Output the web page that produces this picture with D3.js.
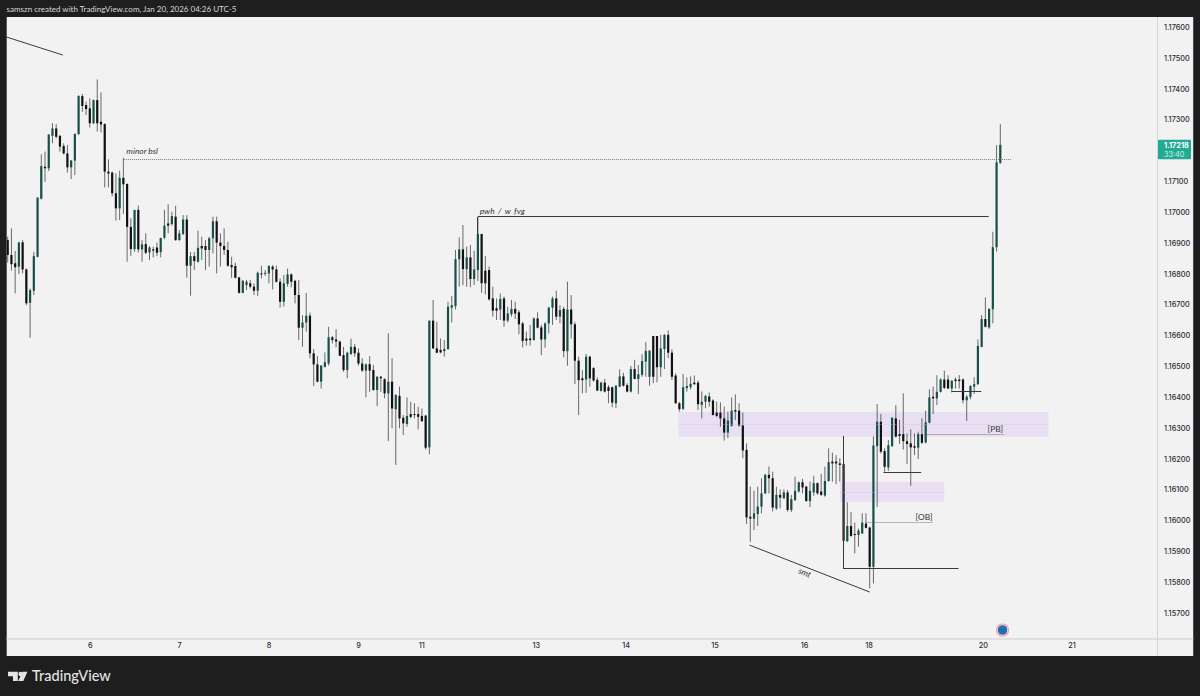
<!DOCTYPE html>
<html><head><meta charset="utf-8">
<script src="https://cdn.jsdelivr.net/npm/d3@7"></script>
<style>html,body{margin:0;padding:0;background:#1e1e1e;overflow:hidden}svg{display:block}</style>
</head><body><div id="chart"></div>
<script>
const highs=[1.16920,1.16947,1.16874,1.16904,1.16909,1.16817,1.16752,1.16871,1.17047,1.17187,
1.17196,1.17253,1.17288,1.17285,1.17250,1.17223,1.17217,1.17169,1.17255,1.17379,
1.17383,1.17358,1.17369,1.17365,1.17430,1.17388,1.17288,1.17171,1.17131,1.17125,
1.17134,1.17176,1.17093,1.16980,1.17007,1.17021,1.16909,1.16931,1.16890,1.16888,
1.16901,1.16917,1.17007,1.17025,1.17001,1.17020,1.16942,1.16990,1.16990,1.16871,
1.16871,1.16940,1.16920,1.16909,1.16920,1.16985,1.16985,1.16931,1.16947,1.16904,
1.16855,1.16836,1.16790,1.16780,1.16780,1.16780,1.16769,1.16807,1.16826,1.16812,
1.16828,1.16828,1.16826,1.16785,1.16796,1.16817,1.16801,1.16780,1.16780,1.16666,
1.16738,1.16674,1.16556,1.16533,1.16504,1.16545,1.16628,1.16598,1.16620,1.16583,
1.16563,1.16547,1.16590,1.16572,1.16558,1.16526,1.16509,1.16533,1.16504,1.16468,
1.16468,1.16461,1.16607,1.16526,1.16409,1.16434,1.16342,1.16399,1.16385,1.16380,
1.16369,1.16363,1.16342,1.16648,1.16715,1.16644,1.16590,1.16585,1.16709,1.16728,
1.16877,1.16918,1.16958,1.16888,1.16893,1.16875,1.16985,1.16929,1.16858,1.16823,
1.16758,1.16720,1.16736,1.16726,1.16693,1.16715,1.16709,1.16682,1.16644,1.16612,
1.16634,1.16658,1.16675,1.16634,1.16642,1.16693,1.16726,1.16745,1.16698,1.16693,
1.16774,1.16731,1.16644,1.16531,1.16488,1.16540,1.16534,1.16497,1.16464,1.16450,
1.16459,1.16439,1.16434,1.16439,1.16490,1.16479,1.16445,1.16501,1.16521,1.16504,
1.16539,1.16578,1.16551,1.16598,1.16598,1.16602,1.16604,1.16616,1.16555,1.16477,
1.16385,1.16475,1.16464,1.16467,1.16470,1.16454,1.16418,1.16407,1.16415,1.16393,
1.16385,1.16383,1.16369,1.16353,1.16399,1.16409,1.16380,1.16350,1.16250,1.16110,
1.16097,1.16110,1.16137,1.16151,1.16175,1.16158,1.16110,1.16101,1.16101,1.16099,
1.16083,1.16142,1.16126,1.16135,1.16112,1.16126,1.16145,1.16123,1.16151,1.16175,
1.16234,1.16220,1.16212,1.16202,1.16191,1.16059,1.16028,1.15993,1.15974,1.16023,
1.16023,1.15980,1.16272,1.16377,1.16345,1.16234,1.16261,1.16334,1.16374,1.16326,
1.16412,1.16282,1.16296,1.16282,1.16288,1.16331,1.16356,1.16425,1.16434,1.16471,
1.16461,1.16486,1.16471,1.16455,1.16464,1.16471,1.16461,1.16407,1.16439,1.16464,
1.16587,1.16666,1.16723,1.16688,1.16936,1.17217,1.17285];
const lows=[1.16836,1.16810,1.16736,1.16799,1.16801,1.16698,1.16593,1.16731,1.16853,1.17041,
1.17098,1.17133,1.17223,1.17239,1.17196,1.17187,1.17128,1.17107,1.17120,1.17250,
1.17325,1.17315,1.17274,1.17285,1.17261,1.17258,1.17080,1.17080,1.17050,1.16972,
1.16974,1.16994,1.16839,1.16858,1.16871,1.16869,1.16839,1.16864,1.16844,1.16853,
1.16857,1.16853,1.16912,1.16931,1.16956,1.16907,1.16907,1.16925,1.16787,1.16729,
1.16812,1.16836,1.16844,1.16812,1.16823,1.16866,1.16801,1.16823,1.16861,1.16823,
1.16787,1.16785,1.16736,1.16736,1.16747,1.16752,1.16731,1.16728,1.16785,1.16793,
1.16769,1.16749,1.16771,1.16690,1.16693,1.16758,1.16756,1.16704,1.16585,1.16563,
1.16612,1.16526,1.16436,1.16448,1.16428,1.16496,1.16502,1.16574,1.16561,1.16533,
1.16482,1.16461,1.16536,1.16531,1.16502,1.16482,1.16399,1.16417,1.16421,1.16371,
1.16417,1.16396,1.16257,1.16299,1.16180,1.16299,1.16277,1.16304,1.16331,1.16331,
1.16295,1.16320,1.16230,1.16215,1.16556,1.16542,1.16542,1.16531,1.16553,1.16642,
1.16684,1.16758,1.16763,1.16758,1.16756,1.16763,1.16776,1.16738,1.16733,1.16713,
1.16661,1.16650,1.16650,1.16628,1.16642,1.16661,1.16653,1.16604,1.16561,1.16567,
1.16567,1.16583,1.16623,1.16536,1.16560,1.16607,1.16634,1.16650,1.16639,1.16529,
1.16502,1.16590,1.16442,1.16342,1.16412,1.16414,1.16434,1.16450,1.16420,1.16418,
1.16415,1.16380,1.16367,1.16364,1.16432,1.16434,1.16415,1.16415,1.16458,1.16410,
1.16466,1.16466,1.16437,1.16445,1.16448,1.16466,1.16491,1.16526,1.16456,1.16378,
1.16353,1.16358,1.16418,1.16425,1.16439,1.16358,1.16331,1.16364,1.16369,1.16340,
1.16335,1.16304,1.16259,1.16267,1.16304,1.16326,1.16304,1.16202,1.15989,1.15931,
1.15969,1.15982,1.16023,1.16086,1.16088,1.16029,1.16034,1.16039,1.16070,1.16029,
1.16027,1.16064,1.16091,1.16088,1.16061,1.16043,1.16080,1.16083,1.16080,1.16077,
1.16126,1.16126,1.16118,1.16126,1.15915,1.15930,1.15947,1.15893,1.15915,1.15956,
1.15974,1.15780,1.15796,1.16044,1.16217,1.16158,1.16161,1.16239,1.16269,1.16248,
1.16230,1.16183,1.16112,1.16212,1.16199,1.16248,1.16250,1.16315,1.16345,1.16374,
1.16415,1.16426,1.16426,1.16415,1.16428,1.16428,1.16380,1.16323,1.16393,1.16410,
1.16439,1.16561,1.16626,1.16621,1.16639,1.16872,1.17156];
const opens=[1.16909,1.16861,1.16834,1.16823,1.16902,1.16814,1.16706,1.16745,1.16855,1.17043,
1.17147,1.17142,1.17247,1.17271,1.17247,1.17214,1.17190,1.17145,1.17167,1.17253,
1.17376,1.17347,1.17336,1.17288,1.17363,1.17293,1.17285,1.17131,1.17128,1.17061,
1.17012,1.17111,1.17091,1.16952,1.16880,1.17007,1.16879,1.16896,1.16869,1.16879,
1.16885,1.16870,1.16917,1.16963,1.16961,1.16985,1.16909,1.16929,1.16976,1.16826,
1.16857,1.16839,1.16890,1.16890,1.16877,1.16915,1.16970,1.16901,1.16890,1.16877,
1.16828,1.16825,1.16788,1.16738,1.16763,1.16769,1.16758,1.16745,1.16801,1.16800,
1.16801,1.16823,1.16814,1.16774,1.16709,1.16767,1.16798,1.16777,1.16731,1.16625,
1.16642,1.16664,1.16542,1.16506,1.16450,1.16498,1.16509,1.16594,1.16587,1.16580,
1.16536,1.16488,1.16540,1.16563,1.16544,1.16509,1.16486,1.16507,1.16488,1.16423,
1.16466,1.16458,1.16412,1.16450,1.16361,1.16404,1.16333,1.16313,1.16345,1.16345,
1.16345,1.16339,1.16340,1.16237,1.16648,1.16558,1.16553,1.16549,1.16556,1.16690,
1.16695,1.16847,1.16879,1.16815,1.16853,1.16783,1.16812,1.16929,1.16810,1.16812,
1.16720,1.16688,1.16684,1.16720,1.16648,1.16669,1.16686,1.16675,1.16639,1.16590,
1.16590,1.16585,1.16655,1.16626,1.16587,1.16639,1.16690,1.16720,1.16661,1.16686,
1.16549,1.16684,1.16636,1.16518,1.16461,1.16457,1.16531,1.16494,1.16456,1.16420,
1.16447,1.16432,1.16432,1.16380,1.16434,1.16467,1.16439,1.16418,1.16491,1.16459,
1.16472,1.16515,1.16466,1.16598,1.16598,1.16497,1.16556,1.16602,1.16544,1.16470,
1.16380,1.16362,1.16429,1.16432,1.16447,1.16447,1.16375,1.16385,1.16402,1.16389,
1.16350,1.16350,1.16331,1.16285,1.16307,1.16358,1.16356,1.16308,1.16229,1.16012,
1.16006,1.16021,1.16045,1.16088,1.16148,1.16137,1.16039,1.16083,1.16072,1.16091,
1.16034,1.16066,1.16094,1.16124,1.16110,1.16063,1.16091,1.16121,1.16094,1.16081,
1.16128,1.16191,1.16191,1.16185,1.16183,1.15933,1.15982,1.15956,1.15953,1.15958,
1.15990,1.15977,1.15850,1.16241,1.16320,1.16225,1.16172,1.16241,1.16331,1.16280,
1.16280,1.16257,1.16250,1.16241,1.16236,1.16280,1.16253,1.16317,1.16401,1.16396,
1.16417,1.16457,1.16457,1.16428,1.16457,1.16457,1.16457,1.16390,1.16401,1.16434,
1.16442,1.16563,1.16653,1.16626,1.16685,1.16886,1.17160];
const closes=[1.16861,1.16831,1.16821,1.16901,1.16814,1.16704,1.16747,1.16857,1.17047,1.17149,
1.17142,1.17251,1.17271,1.17244,1.17212,1.17190,1.17145,1.17167,1.17253,1.17376,
1.17344,1.17334,1.17288,1.17363,1.17288,1.17284,1.17131,1.17125,1.17061,1.17012,
1.17111,1.17090,1.16952,1.16880,1.17007,1.16879,1.16895,1.16868,1.16885,1.16875,
1.16868,1.16916,1.16956,1.16956,1.16987,1.16909,1.16931,1.16976,1.16826,1.16857,
1.16841,1.16884,1.16882,1.16877,1.16915,1.16970,1.16901,1.16890,1.16877,1.16826,
1.16821,1.16787,1.16738,1.16777,1.16774,1.16758,1.16745,1.16803,1.16799,1.16803,
1.16825,1.16814,1.16774,1.16709,1.16769,1.16798,1.16774,1.16731,1.16625,1.16642,
1.16664,1.16542,1.16506,1.16450,1.16502,1.16513,1.16594,1.16585,1.16580,1.16534,
1.16488,1.16544,1.16563,1.16542,1.16509,1.16486,1.16506,1.16486,1.16423,1.16466,
1.16461,1.16412,1.16450,1.16363,1.16407,1.16331,1.16315,1.16339,1.16336,1.16342,
1.16336,1.16322,1.16236,1.16648,1.16558,1.16544,1.16545,1.16556,1.16693,1.16698,
1.16847,1.16879,1.16815,1.16853,1.16783,1.16814,1.16929,1.16769,1.16769,1.16717,
1.16680,1.16680,1.16718,1.16648,1.16671,1.16686,1.16671,1.16636,1.16582,1.16583,
1.16585,1.16655,1.16625,1.16587,1.16639,1.16690,1.16720,1.16661,1.16682,1.16549,
1.16684,1.16636,1.16518,1.16455,1.16455,1.16531,1.16461,1.16454,1.16421,1.16447,
1.16418,1.16420,1.16382,1.16437,1.16467,1.16437,1.16418,1.16491,1.16459,1.16474,
1.16517,1.16550,1.16551,1.16466,1.16497,1.16558,1.16602,1.16544,1.16466,1.16380,
1.16361,1.16432,1.16436,1.16443,1.16442,1.16377,1.16385,1.16404,1.16385,1.16342,
1.16339,1.16331,1.16285,1.16324,1.16356,1.16353,1.16308,1.16227,1.16010,1.16006,
1.16023,1.16045,1.16088,1.16148,1.16137,1.16042,1.16083,1.16074,1.16091,1.16034,
1.16069,1.16096,1.16124,1.16107,1.16063,1.16096,1.16121,1.16088,1.16083,1.16128,
1.16189,1.16185,1.16185,1.16180,1.15934,1.15982,1.15950,1.15953,1.15967,1.15993,
1.15976,1.15850,1.16243,1.16320,1.16223,1.16174,1.16244,1.16333,1.16272,1.16274,
1.16257,1.16248,1.16237,1.16236,1.16280,1.16252,1.16318,1.16399,1.16396,1.16417,
1.16457,1.16430,1.16428,1.16453,1.16452,1.16452,1.16390,1.16401,1.16436,1.16442,
1.16566,1.16653,1.16628,1.16686,1.16886,1.17161,1.17218];

const priceTicks=[1.176,1.175,1.174,1.173,1.171,1.170,1.169,1.168,1.167,1.166,1.165,1.164,1.163,1.162,1.161,1.160,1.159,1.158,1.157];
const dayLabels=["6","7","8","9","11","13","14","15","16","18","20","21"];
const dayBars=[22,45.9,69.9,93.9,110.8,141.5,165.6,189.4,213.4,230.7,261.3,285.1];
const lastPrice=1.17218, countdown="33:40";
const titleText="samszn created with TradingView.com, Jan 20, 2026 04:26 UTC-5";

// Annotations, in bar numbers and prices
const zones=[{b0:179.8,b1:278.9,p0:1.16352,p1:1.16271},{b0:223,b1:251,p0:1.16125,p1:1.16060}];
const solidLines=[
 {b0:-0.46,p0:1.17568,b1:14.8,p1:1.17509},
 {b0:126,p0:1.16984,b1:262.9,p1:1.16984},
 {b0:126,p0:1.16984,b1:126,p1:1.16929},
 {b0:223.9,p0:1.16274,b1:223.9,p1:1.15843},
 {b0:223.9,p0:1.15843,b1:254.8,p1:1.15843},
 {b0:234.7,p0:1.16155,b1:244.8,p1:1.16155},
 {b0:252.9,p0:1.16417,b1:260.9,p1:1.16417},
 {b0:198.8,p0:1.15920,b1:231,p1:1.15768}];
const dottedLines=[
 {b0:31.2,p0:1.17172,b1:268.9,p1:1.17172,c:"#666",o:.85},
 {b0:245.7,p0:1.16279,b1:266.9,p1:1.16279,c:"#666",o:.85},
 {b0:229.9,p0:1.15993,b1:247.9,p1:1.15993,c:"#666",o:.85},
 {b0:179.8,p0:1.16311,b1:278.9,p1:1.16311,c:"#c9b8dc",o:.6},
 {b0:223,p0:1.16092,b1:251,p1:1.16092,c:"#c9b8dc",o:.6}];
const notes=[
 {t:"minor bsl",b:31.8,p:1.17188,i:true,ws:0},
 {t:"pwh / w fvg",b:126.5,p:1.16994,i:true,ws:1.4},
 {t:"[PB]",b:262.6,p:1.16288,i:false,ws:0},
 {t:"[OB]",b:243.3,p:1.16003,i:false,ws:0}];

const W=1200,H=696;
const x=d3.scaleLinear().domain([0,266]).range([7.7,1000.3]);
const y=d3.scaleLinear().domain([1.176,1.157]).range([27,613]);
const snap=v=>Math.floor(v)+.5;
const svg=d3.select("#chart").append("svg").attr("width",W).attr("height",H);
const font="Inter, Roboto, sans-serif";
svg.append("rect").attr("width",W).attr("height",H).attr("fill","#1e1e1e");
svg.append("rect").attr("x",6.7).attr("y",17).attr("width",1186.5).attr("height",639).attr("fill","#f2f2f2");
svg.append("defs").append("clipPath").attr("id","pane").append("rect").attr("x",6.7).attr("y",17).attr("width",1150.5).attr("height",621);
const pane=svg.append("g").attr("clip-path","url(#pane)");

pane.selectAll("rect.zone").data(zones).join("rect").attr("class","zone")
 .attr("x",d=>x(d.b0)).attr("width",d=>x(d.b1)-x(d.b0))
 .attr("y",d=>y(d.p0)).attr("height",d=>y(d.p1)-y(d.p0)).attr("fill","#e9dff3");

const candles=d3.range(opens.length).map(i=>({i,o:opens[i],h:highs[i],l:lows[i],c:closes[i]}));
const colour=d=>d.c>=d.o?"#17504a":"#111111";
pane.selectAll("line.wick").data(candles).join("line").attr("class","wick")
 .attr("x1",d=>x(d.i)).attr("x2",d=>x(d.i)).attr("y1",d=>y(d.h)).attr("y2",d=>y(d.l))
 .attr("stroke","#333").attr("stroke-opacity",.72).attr("stroke-width",1);
pane.selectAll("rect.body").data(candles).join("rect").attr("class","body")
 .attr("x",d=>x(d.i)-1.1).attr("width",2.2)
 .attr("y",d=>y(Math.max(d.o,d.c))).attr("height",d=>Math.max(1,Math.abs(y(d.o)-y(d.c))))
 .attr("fill",colour);

pane.selectAll("line.dot").data(dottedLines).join("line").attr("class","dot")
 .attr("x1",d=>x(d.b0)).attr("x2",d=>x(d.b1)).attr("y1",d=>snap(y(d.p0))).attr("y2",d=>snap(y(d.p1)))
 .attr("stroke",d=>d.c).attr("stroke-opacity",d=>d.o).attr("stroke-width",1).attr("stroke-dasharray","1 1");
const flatY=d=>d.p0===d.p1, flatX=d=>d.b0===d.b1;
pane.selectAll("line.solid").data(solidLines).join("line").attr("class","solid")
 .attr("x1",d=>flatX(d)?snap(x(d.b0)):x(d.b0)).attr("x2",d=>flatX(d)?snap(x(d.b1)):x(d.b1))
 .attr("y1",d=>flatY(d)?snap(y(d.p0)):y(d.p0)).attr("y2",d=>flatY(d)?snap(y(d.p1)):y(d.p1))
 .attr("stroke","#3a3a3a").attr("stroke-width",1);

pane.selectAll("text.note").data(notes).join("text").attr("class","note")
 .attr("x",d=>x(d.b)).attr("y",d=>y(d.p))
 .attr("font-family","Lato, sans-serif").attr("font-size",8.4).attr("font-style",d=>d.i?"italic":"normal")
 .attr("word-spacing",d=>d.ws).attr("fill","#333").text(d=>d.t);
pane.append("text").attr("transform",`translate(${x(213.3)},${y(1.15822)}) rotate(22)`).attr("text-anchor","middle")
 .attr("font-family","Lato, sans-serif").attr("font-size",8.4).attr("font-style","italic").attr("fill","#333").text("smt");

// Currency marker
const flag=pane.append("g").attr("transform",`translate(${x(266.6)},630)`);
flag.append("circle").attr("r",6.6).attr("fill","#f59aa2");
flag.append("circle").attr("r",5.4).attr("fill","#f4f4f4");
flag.append("circle").attr("r",4.8).attr("fill","#2369b4");
flag.append("circle").attr("r",2.8).attr("fill","none").attr("stroke","#3f8f78").attr("stroke-width",.9).attr("stroke-dasharray","1 1");

// Axes
svg.append("rect").attr("x",6.7).attr("y",638).attr("width",1186.5).attr("height",2).attr("fill","#dfdfe6");
svg.append("rect").attr("x",1157).attr("y",17).attr("width",1).attr("height",639).attr("fill","#d4d4da");
const yAxis=d3.axisRight(y).tickValues(priceTicks).tickSize(0).tickPadding(0).tickFormat(d3.format(".5f"));
const gy=svg.append("g").attr("transform","translate(1164,0)").call(yAxis);
const xAxis=d3.axisBottom(x).tickValues(dayBars).tickSize(0).tickPadding(0).tickFormat((d,i)=>dayLabels[i]);
const gx=svg.append("g").attr("transform","translate(0,643)").call(xAxis);
[gy,gx].forEach(g=>{g.select(".domain").remove();
 g.selectAll("text").attr("font-family",font).attr("font-size",7.3).attr("font-weight",500).attr("fill","#2a2e39");});

// Last price tag
const tagY=y(lastPrice);
svg.append("rect").attr("x",1158).attr("y",tagY-5).attr("width",33).attr("height",19.5).attr("rx",1).attr("fill","#22ab94");
svg.append("text").attr("x",1164).attr("y",tagY+3.6).attr("font-family",font).attr("font-size",7.3).attr("font-weight",700).attr("fill","#fff").text(d3.format(".5f")(lastPrice));
svg.append("text").attr("x",1164).attr("y",tagY+12.2).attr("font-family",font).attr("font-size",7.3).attr("fill","#d6f1ec").text(countdown);

// Header and logo
svg.append("text").attr("x",6.6).attr("y",12.3).attr("font-family","Lato, sans-serif").attr("font-size",8).attr("fill","#d8d8d8").text(titleText);
const logo=svg.append("g").attr("fill","#e4e4e4");
logo.append("path").attr("d","M8 671.8H17.8V681H13V676.2H8Z");
logo.append("circle").attr("cx",20.6).attr("cy",674).attr("r",2.2);
logo.append("path").attr("d","M22.5 671.8H27.4L23.3 681H18.2Z");
svg.append("text").attr("x",32).attr("y",681.3).attr("font-family","Lato, sans-serif").attr("font-size",14.5).attr("font-weight",500).attr("fill","#e4e4e4").text("TradingView");
</script></body></html>
